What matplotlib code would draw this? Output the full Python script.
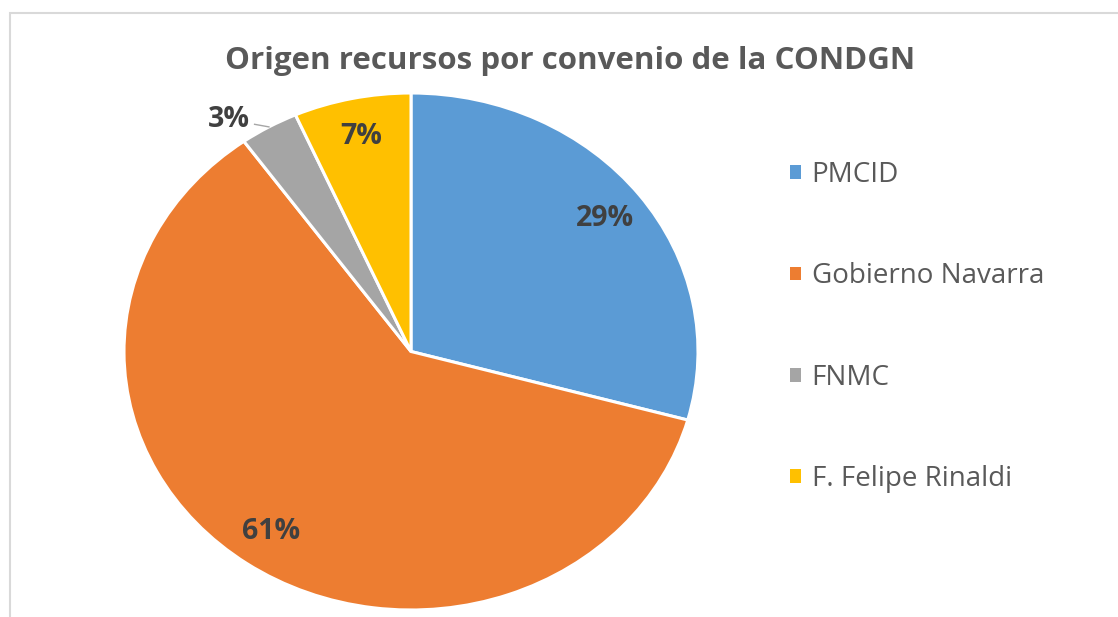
import matplotlib
matplotlib.use("Agg")
import matplotlib.pyplot as plt
import numpy as np
from matplotlib.patches import Patch, Rectangle

# data
categories = ["PMCID", "Gobierno Navarra", "FNMC", "F. Felipe Rinaldi"]
shares = [29.3, 60.9, 3.3, 6.6]
colors = ["#5B9BD5", "#ED7D31", "#A5A5A5", "#FFC000"]
title = "Origen recursos por convenio de la CONDGN"

W, H = 1118, 617
fig = plt.figure(figsize=(W / 100, H / 100), dpi=100)
fig.patch.set_facecolor("white")

# light chart-area frame (top and left visible)
fig.add_artist(Rectangle((10 / W, -0.1), 1.2, (H - 13) / H + 0.1,
                         transform=fig.transFigure, fill=False,
                         edgecolor="#d9d9d9", linewidth=1.5))

# pie is slightly stretched horizontally in the source, so use a non-equal aspect
ax = fig.add_axes([124 / W, 7 / H, 574 / W, 517 / H])
wedges, _ = ax.pie(shares, colors=colors, startangle=90, counterclock=False,
                   radius=1.0,
                   wedgeprops=dict(edgecolor="white", linewidth=2.2, clip_on=False))
ax.set_aspect("auto")
ax.set_xlim(-1, 1)
ax.set_ylim(-1, 1)
ax.axis("off")

lbl_kw = dict(fontsize=20.5, fontweight="bold", color="#404040",
              family=["Open Sans", "DejaVu Sans"])
for w, v in zip(wedges, shares):
    mid = np.deg2rad(0.5 * (w.theta1 + w.theta2))
    txt = "%.0f%%" % v
    if v < 5:
        # small slice: label outside with a short leader line
        ex, ey = np.cos(mid), np.sin(mid)
        lx, ly = ex - 0.05, ey + 0.01
        ax.plot([ex, lx], [ey, ly], color="#a6a6a6", linewidth=1, clip_on=False)
        ax.text(lx - 0.015, ly + 0.02, txt, ha="right", va="center", **lbl_kw)
    else:
        r = 0.85
        ax.text(r * np.cos(mid), r * np.sin(mid), txt, ha="center", va="center",
                **lbl_kw)

fig.text(570 / W, 1 - 69 / H, title, ha="center", va="baseline",
         fontsize=22.5, fontweight="bold", color="#595959",
         family=["Open Sans", "DejaVu Sans"])

handles = [Patch(facecolor=c, edgecolor="none") for c in colors]
fig.legend(handles, categories, loc="upper left",
           bbox_to_anchor=(790 / W, 1 - 161 / H), frameon=False,
           prop=dict(family=["Open Sans", "DejaVu Sans"], size=20),
           labelcolor="#595959", handlelength=0.38, handleheight=0.38,
           handletextpad=0.4, labelspacing=2.64, borderpad=0, borderaxespad=0)

fig.savefig("out.png", dpi=100, facecolor="white")
